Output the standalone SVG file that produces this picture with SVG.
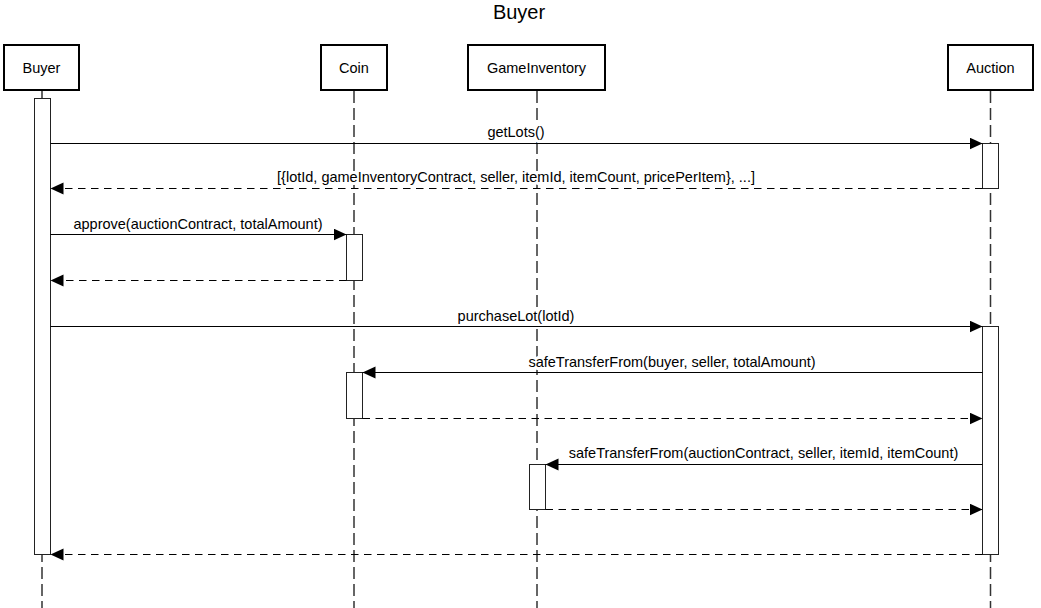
<svg xmlns="http://www.w3.org/2000/svg" width="1041" height="608" viewBox="0 0 1041 608">
<style>
text{font-family:"Liberation Sans",Arial,sans-serif;fill:#000}
.title{font-size:20px;text-anchor:middle}
.lbl{font-size:14.5px;text-anchor:middle}
.ml{paint-order:stroke;stroke:#fff;stroke-width:6px;stroke-linejoin:round}
.box{fill:#fff;stroke:#000;stroke-width:2}
.life{stroke:#333;stroke-width:1.5;stroke-dasharray:12,5;fill:none}
.act{fill:#fff;stroke:#222;stroke-width:1}
.msg{stroke:#000;stroke-width:1;fill:none}
.ret{stroke:#000;stroke-width:1;fill:none;stroke-dasharray:7.5,5.5}
</style>
<defs>
<marker id="ah" markerUnits="userSpaceOnUse" markerWidth="14" markerHeight="13" refX="13" refY="6" orient="auto">
<path d="M0,0 L13,6 L0,12 z" fill="#000"/>
</marker>
</defs>
<rect width="1041" height="608" fill="#fff"/>
<text class="title" x="519" y="19">Buyer</text>

<g id="buyer">
<line class="life" x1="42" y1="91" x2="42" y2="608"/>
<rect class="box" x="4" y="45" width="75" height="45"/>
<text class="lbl" x="41.5" y="73">Buyer</text>
<rect class="act" x="34.5" y="98.5" width="16" height="456"/>
</g>
<g id="coin">
<line class="life" x1="354" y1="91" x2="354" y2="608"/>
<rect class="box" x="321" y="45" width="66" height="45"/>
<text class="lbl" x="354" y="73">Coin</text>
<rect class="act" x="346.5" y="234.5" width="16" height="46"/>
<rect class="act" x="346.5" y="372.5" width="16" height="46"/>
</g>
<g id="gameinventory">
<line class="life" x1="537" y1="91" x2="537" y2="608"/>
<rect class="box" x="468" y="45" width="137" height="45"/>
<text class="lbl" x="536.5" y="73">GameInventory</text>
<rect class="act" x="529.5" y="464.5" width="16" height="45"/>
</g>
<g id="auction">
<line class="life" x1="990.5" y1="91" x2="990.5" y2="608"/>
<rect class="box" x="948" y="45" width="85" height="45"/>
<text class="lbl" x="990.5" y="73">Auction</text>
<rect class="act" x="982.5" y="143.5" width="16" height="45"/>
<rect class="act" x="982.5" y="326.5" width="16" height="228"/>
</g>

<g id="connectors">
<text class="lbl ml" x="516" y="137">getLots()</text>
<text class="lbl ml" x="516" y="182">[{lotId, gameInventoryContract, seller, itemId, itemCount, pricePerItem}, ...]</text>
<text class="lbl ml" x="198" y="229">approve(auctionContract, totalAmount)</text>
<text class="lbl ml" x="516" y="321">purchaseLot(lotId)</text>
<text class="lbl ml" x="672" y="367">safeTransferFrom(buyer, seller, totalAmount)</text>
<text class="lbl ml" x="763.5" y="458">safeTransferFrom(auctionContract, seller, itemId, itemCount)</text>
<line class="msg" x1="50.5" y1="143.5" x2="982.5" y2="143.5" marker-end="url(#ah)"/>
<line class="ret" x1="982.5" y1="188.5" x2="50.5" y2="188.5" marker-end="url(#ah)"/>
<line class="msg" x1="50.5" y1="234.5" x2="346.5" y2="234.5" marker-end="url(#ah)"/>
<line class="ret" x1="346.5" y1="280.5" x2="50.5" y2="280.5" marker-end="url(#ah)"/>
<line class="msg" x1="50.5" y1="326.5" x2="982.5" y2="326.5" marker-end="url(#ah)"/>
<line class="msg" x1="982.5" y1="372.5" x2="362.5" y2="372.5" marker-end="url(#ah)"/>
<line class="ret" x1="362.5" y1="418.5" x2="982.5" y2="418.5" marker-end="url(#ah)"/>
<line class="msg" x1="982.5" y1="464.5" x2="545.5" y2="464.5" marker-end="url(#ah)"/>
<line class="ret" x1="545.5" y1="509.5" x2="982.5" y2="509.5" marker-end="url(#ah)"/>
<line class="ret" x1="982.5" y1="554.5" x2="50.5" y2="554.5" marker-end="url(#ah)"/>
</g>
</svg>
